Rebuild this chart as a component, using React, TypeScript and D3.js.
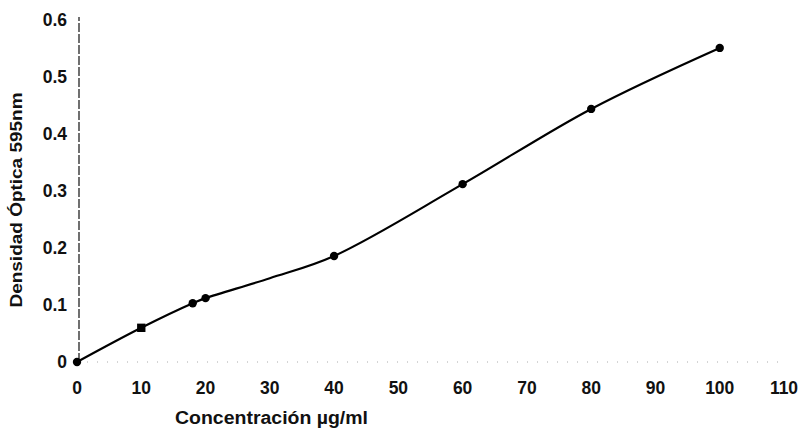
import * as d3 from "d3";
import { useEffect, useRef } from "react";

// Concentration (µg/ml) vs optical density at 595nm
const concentration = [0, 10, 18, 20, 30, 40, 60, 80, 100];
const density = [0, 0.06, 0.103, 0.112, 0.147, 0.186, 0.312, 0.444, 0.551];
const markerKinds = ["circle", "square", "circle", "circle", "cross", "circle", "circle", "circle", "circle"];

const xTicks = [0, 10, 20, 30, 40, 50, 60, 70, 80, 90, 100, 110];
const yTicks = [0, 0.1, 0.2, 0.3, 0.4, 0.5, 0.6];
const xTitle = "Concentración µg/ml";
const yTitle = "Densidad Óptica 595nm";

const W = 804;
const H = 430;

const App = () => {
  const svgRef = useRef<SVGSVGElement | null>(null);

  useEffect(() => {
    if (!svgRef.current) return;
    const svg = d3.select(svgRef.current);
    svg.selectAll("*").remove();

    const font = "'Liberation Sans', Arial, sans-serif";
    const x = d3.scaleLinear().domain([0, 110]).range([77, 784]);
    const y = d3.scaleLinear().domain([0, 0.6]).range([362, 20]);

    // x axis: faint dotted baseline
    svg
      .append("line")
      .attr("x1", x(0))
      .attr("x2", x(110))
      .attr("y1", y(0))
      .attr("y2", y(0))
      .attr("stroke", "#aaa")
      .attr("stroke-width", 1)
      .attr("stroke-dasharray", "1,9");

    // y axis: dashed line
    svg
      .append("line")
      .attr("x1", x(0) + 2)
      .attr("x2", x(0) + 2)
      .attr("y1", y(0))
      .attr("y2", y(0.6) - 3)
      .attr("stroke", "#111")
      .attr("stroke-width", 1.2)
      .attr("stroke-dasharray", "9,2");

    // tick labels
    svg
      .append("g")
      .selectAll("text")
      .data(yTicks)
      .join("text")
      .attr("x", 67)
      .attr("y", (d) => y(d))
      .attr("dy", "0.36em")
      .attr("text-anchor", "end")
      .attr("font-family", font)
      .attr("font-size", 17.5)
      .attr("font-weight", "bold")
      .attr("fill", "#111")
      .text((d) => (d === 0 ? "0" : d3.format(".1f")(d)));

    svg
      .append("g")
      .selectAll("text")
      .data(xTicks)
      .join("text")
      .attr("x", (d) => x(d))
      .attr("y", 394)
      .attr("text-anchor", "middle")
      .attr("font-family", font)
      .attr("font-size", 17.5)
      .attr("font-weight", "bold")
      .attr("fill", "#111")
      .text((d) => String(d));

    // axis titles
    svg
      .append("text")
      .attr("x", 175)
      .attr("y", 424)
      .attr("font-family", font)
      .attr("font-size", 17.5)
      .attr("font-weight", "bold")
      .attr("fill", "#111")
      .attr("textLength", 193)
      .attr("lengthAdjust", "spacingAndGlyphs")
      .text(xTitle);

    svg
      .append("text")
      .attr("transform", "translate(22,200) rotate(-90)")
      .attr("text-anchor", "middle")
      .attr("font-family", font)
      .attr("font-size", 16)
      .attr("font-weight", "bold")
      .attr("fill", "#111")
      .attr("textLength", 215)
      .attr("lengthAdjust", "spacingAndGlyphs")
      .text(yTitle);

    // smoothed series line
    const points = concentration.map((c, i) => [c, density[i]] as [number, number]);
    const line = d3
      .line<[number, number]>()
      .x((d) => x(d[0]))
      .y((d) => y(d[1]))
      .curve(d3.curveCatmullRom.alpha(0.5));

    svg
      .append("path")
      .datum(points)
      .attr("d", line)
      .attr("fill", "none")
      .attr("stroke", "#000")
      .attr("stroke-width", 2.2);

    // markers
    const symbolFor = (k: string) =>
      k === "square" ? d3.symbolSquare : k === "cross" ? d3.symbolPlus : d3.symbolCircle;

    svg
      .append("g")
      .selectAll("path")
      .data(points)
      .join("path")
      .attr("transform", (d) => `translate(${x(d[0])},${y(d[1])})`)
      .attr("d", (_d, i) => {
        const k = markerKinds[i];
        const size = k === "square" ? 70 : k === "cross" ? 40 : 55;
        return d3.symbol().type(symbolFor(k)).size(size)();
      })
      .attr("fill", "#000");
  }, []);

  return (
    <svg
      ref={svgRef}
      width={W}
      height={H}
      style={{ position: "absolute", left: 0, top: 0, background: "#fff" }}
    />
  );
};

export default App;
